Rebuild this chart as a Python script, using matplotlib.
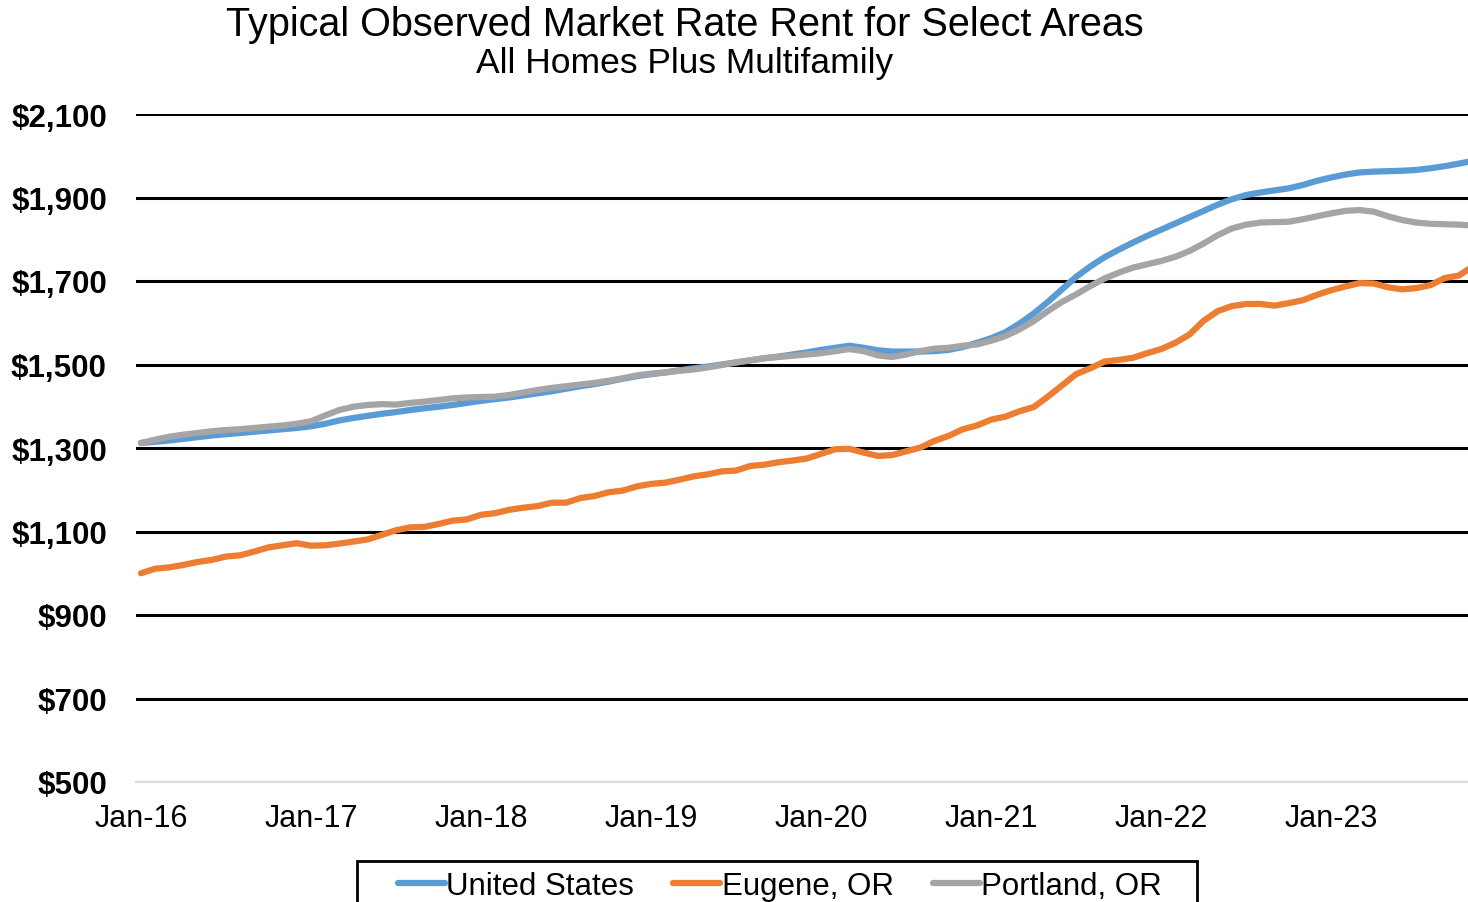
import numpy as np
import matplotlib
matplotlib.use("Agg")
import matplotlib.pyplot as plt
from matplotlib.patches import Rectangle
from matplotlib.ticker import FuncFormatter

plt.rcParams['font.family'] = ['Liberation Sans', 'DejaVu Sans']

# monthly values, Jan-16 .. Nov-23
united_states = [
  1312, 1315, 1318, 1322, 1326, 1330, 1333, 1336, 1339, 1342, 1345, 1348,
  1352, 1358, 1366, 1372, 1377, 1382, 1386, 1391, 1395, 1399, 1403, 1408,
  1413, 1417, 1421, 1426, 1431, 1436, 1442, 1448, 1453, 1459, 1466, 1472,
  1477, 1481, 1486, 1491, 1495, 1500, 1505, 1510, 1515, 1519, 1524, 1529,
  1535, 1540, 1545, 1540, 1534, 1531, 1531, 1531, 1532, 1535, 1542, 1552,
  1563, 1577, 1598, 1622, 1650, 1680, 1710, 1735, 1757, 1775, 1792, 1808,
  1823, 1838, 1853, 1868, 1883, 1896, 1906, 1912, 1917, 1922, 1930, 1940,
  1948, 1955, 1960, 1962, 1963, 1964, 1966, 1970, 1975, 1981, 1988,
]
eugene = [
  1000, 1011, 1014, 1020, 1027, 1032, 1040, 1043, 1052, 1062, 1067, 1072,
  1066, 1067, 1071, 1076, 1081, 1092, 1103, 1110, 1111, 1118, 1126, 1129,
  1140, 1144, 1152, 1157, 1161, 1169, 1169, 1180, 1185, 1194, 1198, 1208,
  1214, 1217, 1224, 1232, 1237, 1244, 1246, 1257, 1260, 1266, 1270, 1275,
  1286, 1297, 1298, 1289, 1281, 1283, 1292, 1301, 1317, 1329, 1345, 1354,
  1368, 1375, 1388, 1398, 1423, 1450, 1477, 1491, 1507, 1511, 1516, 1527,
  1537, 1552, 1572, 1605, 1628, 1640, 1645, 1645, 1641, 1647, 1654, 1667,
  1678, 1687, 1695, 1694, 1685, 1680, 1683, 1690, 1707, 1713, 1735,
]
portland = [
  1312, 1320, 1327, 1332, 1336, 1340, 1343, 1345, 1348, 1351, 1354, 1358,
  1364, 1378, 1391, 1399, 1403, 1405, 1404, 1408, 1411, 1415, 1419, 1421,
  1422, 1423, 1427, 1433, 1439, 1444, 1448, 1452, 1456, 1461, 1467, 1474,
  1478, 1481, 1485, 1488, 1493, 1499, 1505, 1510, 1515, 1518, 1521, 1524,
  1527, 1532, 1537, 1532, 1522, 1518, 1524, 1532, 1538, 1540, 1545, 1548,
  1557, 1568, 1584, 1604, 1628, 1650, 1668, 1688, 1706, 1720, 1732, 1740,
  1748, 1758, 1772, 1790, 1810, 1826, 1835, 1840, 1841, 1842, 1848, 1855,
  1862, 1868, 1870, 1866, 1855, 1846, 1840, 1837, 1836, 1835, 1833,
]
tick_labels = ["Jan-16", "Jan-17", "Jan-18", "Jan-19", "Jan-20", "Jan-21", "Jan-22", "Jan-23"]
y_ticks = [500, 700, 900, 1100, 1300, 1500, 1700, 1900, 2100]

months = np.arange(len(united_states))

fig = plt.figure(figsize=(14.68, 9.03), dpi=100)
ax = fig.add_axes([136/1468, 1 - 783/903, 1 - 136/1468, 668/903])

ax.plot(months, united_states, color='#5B9BD5', lw=4.5, label='United States', solid_capstyle='round')
ax.plot(months, eugene, color='#ED7D31', lw=4.5, label='Eugene, OR', solid_capstyle='round')
ax.plot(months, portland, color='#A5A5A5', lw=4.5, label='Portland, OR', solid_capstyle='round')

ax.set_ylim(500, 2100)
ax.set_xlim(-0.35, 93.65)
ax.set_yticks(y_ticks)
ax.yaxis.set_major_formatter(FuncFormatter(lambda v, p: "${:,.0f}".format(v)))
ax.set_xticks(np.arange(len(tick_labels)) * 12)
ax.set_xticklabels(tick_labels)
ax.tick_params(axis='y', length=0, pad=21, labelsize=22.5)
ax.tick_params(axis='x', length=0, pad=15, labelsize=22)
for lab in ax.get_yticklabels():
  lab.set_fontweight('bold')

ax.grid(axis='y', color='black', lw=2.2)
ax.set_axisbelow(True)
for s in ['top', 'right', 'left']:
  ax.spines[s].set_visible(False)
ax.spines['bottom'].set_color('#d9d9d9')
ax.spines['bottom'].set_linewidth(1.5)
ax.spines['bottom'].set_zorder(3)

fig.text(685/1468, 1 - 25/903, "Typical Observed Market Rate Rent for Select Areas",
         ha='center', va='center', fontsize=28.5)
fig.text(685/1468, 1 - 64/903, "All Homes Plus Multifamily",
         ha='center', va='center', fontsize=25.5)

# legend box (cut off at the bottom edge like the original)
fig.patches.append(Rectangle((357/1468, -0.02), 840/1468, 0.02 + 41/903,
                             transform=fig.transFigure, fill=False,
                             edgecolor='black', lw=2))
fig.legend(loc='center', bbox_to_anchor=(780/1468, 1 - 887/903), ncol=3,
           fontsize=22.5, frameon=False, handlelength=1.5,
           handletextpad=0.05, columnspacing=1.25)

plt.savefig("out.png", dpi=100)
